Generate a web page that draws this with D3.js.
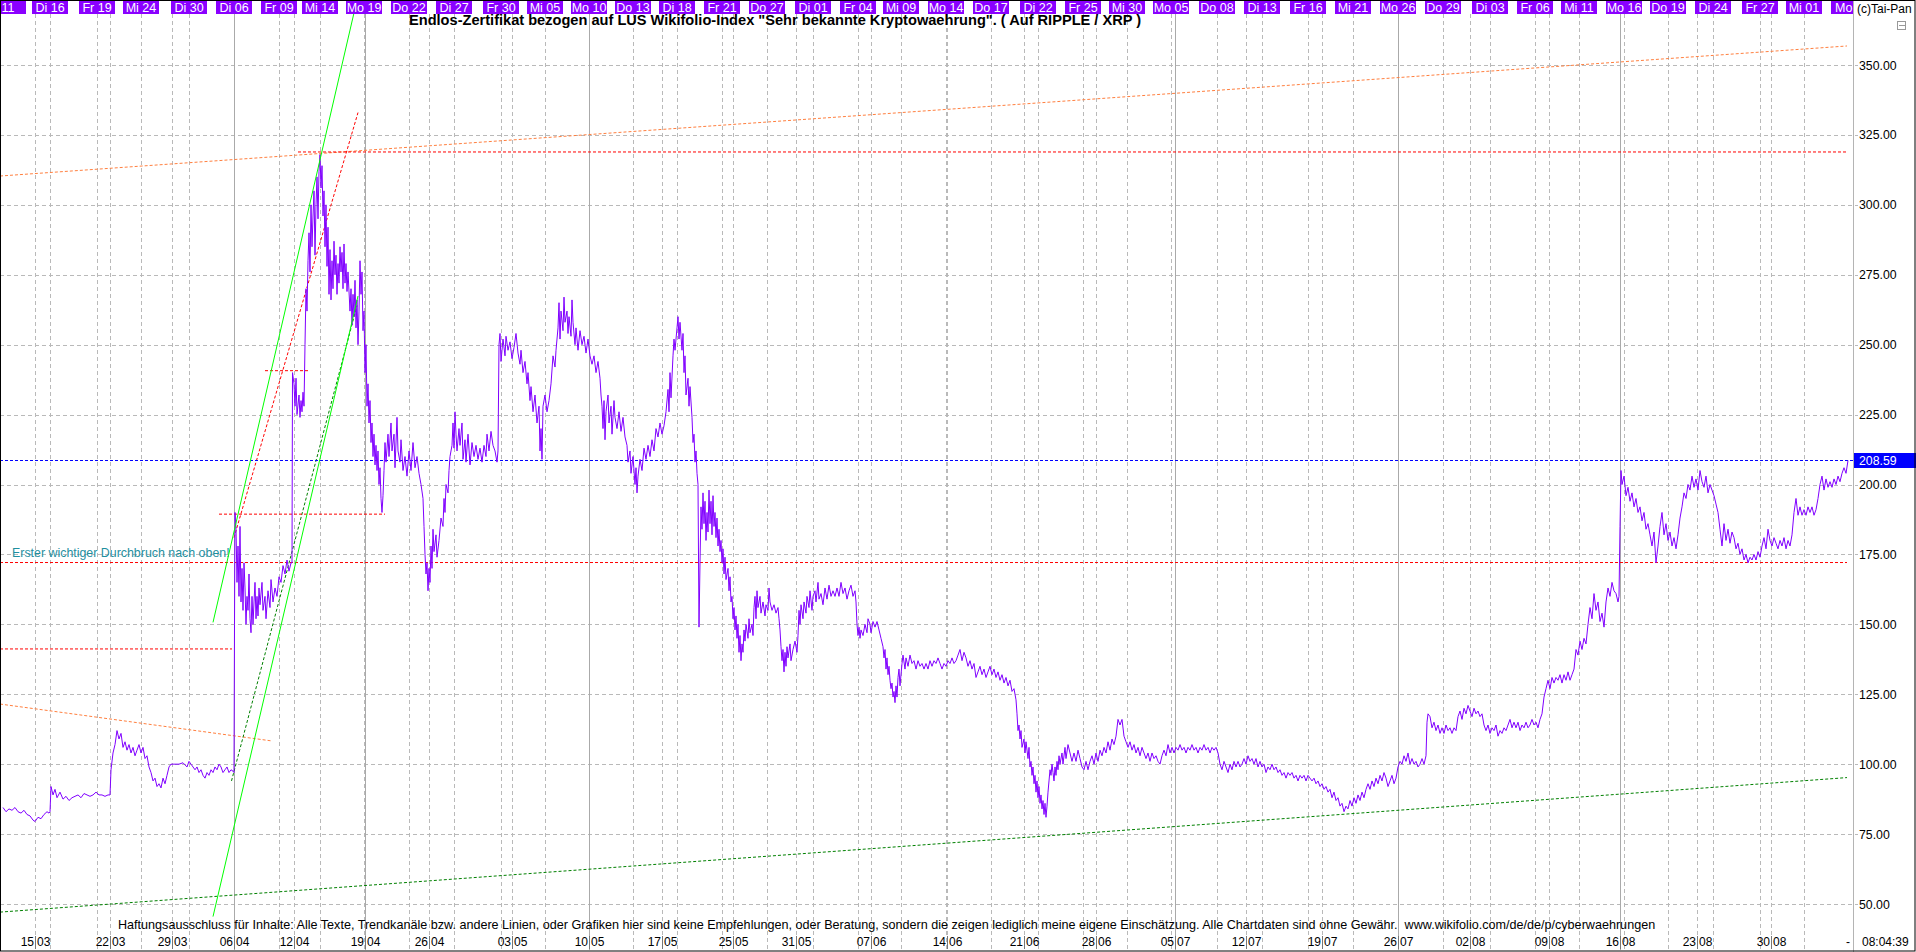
<!DOCTYPE html>
<html><head><meta charset="utf-8">
<script src="https://cdn.jsdelivr.net/npm/d3@7"></script>
<style>
html,body{margin:0;padding:0;background:#fff;overflow:hidden}
svg{display:block}
text{font-family:"Liberation Sans",Arial,sans-serif}
</style></head><body>
<svg id="c" width="1916" height="952"></svg>
<script>
// ---------------- DATA ----------------
const titleText = 'Endlos-Zertifikat bezogen auf LUS Wikifolio-Index "Sehr bekannte Kryptowaehrung". ( Auf RIPPLE / XRP )';
const disclaimerText = "Haftungsausschluss für Inhalte: Alle Texte, Trendkanäle bzw. andere Linien, oder Grafiken hier sind keine Empfehlungen, oder Beratung, sondern die zeigen lediglich meine eigene Einschätzung. Alle Chartdaten sind ohne Gewähr.  www.wikifolio.com/de/de/p/cyberwaehrungen";
const noteText = "Erster wichtiger Durchbruch nach oben!";
const copyrightText = "(c)Tai-Pan";
const timeText = "08:04:39";
const lastPrice = 208.59;
const priceTicks = [50, 75, 100, 125, 150, 175, 200, 225, 250, 275, 300, 325, 350];

// session index of each date label: [t, day, month]
const dateTicks = [[35,"15","03"],[110,"22","03"],[172,"29","03"],[234,"06","04"],[294,"12","04"],[365,"19","04"],
  [429,"26","04"],[512,"03","05"],[589,"10","05"],[662,"17","05"],[733,"25","05"],[796,"31","05"],[871,"07","06"],
  [947,"14","06"],[1024,"21","06"],[1096,"28","06"],[1175,"05","07"],[1246,"12","07"],[1322,"19","07"],[1398,"26","07"],
  [1470,"02","08"],[1549,"09","08"],[1620,"16","08"],[1697,"23","08"],[1771,"30","08"]];
const majorDates = ["06.04","19.04","10.05","05.07","26.07","16.08"];
const topLabels = [[8,"11"],[50,"Di 16"],[97,"Fr 19"],[141,"Mi 24"],[189,"Di 30"],[234,"Di 06"],[279,"Fr 09"],[320,"Mi 14"],
  [364,"Mo 19"],[409,"Do 22"],[454,"Di 27"],[501,"Fr 30"],[545,"Mi 05"],[589,"Mo 10"],[633,"Do 13"],[677,"Di 18"],
  [722,"Fr 21"],[767,"Do 27"],[813,"Di 01"],[858,"Fr 04"],[901,"Mi 09"],[946,"Mo 14"],[991,"Do 17"],[1038,"Di 22"],
  [1083,"Fr 25"],[1127,"Mi 30"],[1171,"Mo 05"],[1217,"Do 08"],[1262,"Di 13"],[1308,"Fr 16"],[1353,"Mi 21"],[1398,"Mo 26"],
  [1443,"Do 29"],[1490,"Di 03"],[1535,"Fr 06"],[1579,"Mi 11"],[1624,"Mo 16"],[1668,"Do 19"],[1713,"Di 24"],[1760,"Fr 27"],
  [1804,"Mi 01"],[1849,"Mo"]];
const sessionRange = [0, 1853];

// price path [session index, price]
const priceMar = [[3,84.5],[6,83],[9,84],[12,83.5],[15,84.5],[18,83],[21,82.5],[24,83.5],[27,82],[30,81.5],[33,80],[35,79.5],[38,81],[41,80.5],[44,82],[47,83],[49,82.5],
 [50,83],[51,92],[53,89],[55,91],[57,88],[60,90],[63,87.5],[66,88.5],[69,87],[72,88],[75,88.5],[78,89],[81,88],[84,89.5],[87,89],[90,88.5],[93,89],[96,90],[99,89],[102,89],[105,88.5],[108,89],[110,89],
 [111,98],[113,104],[115,107],[117,112],[119,109],[121,111],[123,106],[125,108],[127,105],[129,107],[131,104],[133,106],[135,103],[137,105],[139,107],[141,104],[143,106],[145,102],[147,103],[149,99],[151,97],[153,94],[155,95],[157,92],[159,93],[161,91.5],[163,95],[165,93],[167,96],[169,99],[171,100],[175,100],[179,100],[183,100.5],[187,99],[189,101],[191,100],[193,99],[195,98],[197,99],[199,97],[201,98],[203,96],[205,95],[207,97],[209,96],[211,98],[213,97],[215,99],[217,98],[219,100],[221,99],[223,97],[225,98],[227,99],[229,97],[231,98],[233,97.5]];
const priceApr = [[234,97],[234.5,150],[235,190],[236,184],[237,165],[238,178],[239,160],[240,185],[241,158],[242,170],[243,155],[244,172],[245,163],[246,150],[247,160],[248,155],[249,168],[250,152],[251,147],[252,160],[253,150],[254,158],[255,165],[256,152],[257,160],[258,153],[259,163],[260,157],[262,165],[263,155],[265,160],[266,152],[268,162],[270,156],[271,166],[273,158],[275,163],[277,160],[279,167],[281,165],[283,171],[285,168],[287,173],[289,169],[291,172],
 [292,172],[292.5,240],[294,236],[295,228],[296,238],[297,225],[299,232],[300,224],[301,230],[302,226],[303,233],[304,228],[305,250],[306,270],[307,262],[308,280],[309,290],[310,276],[311,300],[312,285],[313,296],[314,305],[315,282],[316,300],[317,310],[318,295],[319,312],[320,318],[321,306],[322,314],[323,296],[324,305],[325,285],[326,300],[327,278],[328,292],[329,268],[330,284],[331,266],[332,280],[333,270],[334,287],[335,275],[336,282],[337,268],[338,279],[339,272],[340,285],[341,276],[342,283],[343,270],[344,286],[345,272],[346,279],[347,269],[348,276],[350,262],[351,270],[352,257],[353,268],[354,260],[355,273],[356,256],[357,266],[358,250],[359,262],[360,280],[361,268],[362,276],[363,255],[364,262],[365,240],[366,250],[367,228],[368,236],[369,222],[370,230],[371,215],[372,222],[373,210],[374,218],[375,207],[376,214],[377,205],[378,212],[379,200],[380,206],[381,195],[382,190],[383,196],
 [384,205],[385,215],[386,208],[388,218],[389,210],[391,222],[392,212],[394,218],[395,206],[397,224],[398,212],[400,208],[401,216],[403,205],[405,210],[407,203],[409,212],[411,205],[413,215],[415,206],[417,210],[419,204],[421,200],[423,195],[424,185],[425,175],[426,168],[427,172],[428,162],[429,170],[430,165],[431,178],[432,170],[433,184],[434,176],[436,182],[437,174],[439,180],[441,188],[443,185],[444,195],[445,190],[446,200],[448,197],[449,205],[450,210],[452,214],[453,222],[454,213],[455,226],[456,218],[457,212],[459,220],[460,214],[462,222],[463,209],[465,216],[466,208],[468,218],[470,207],[472,215],[474,210],[476,214],[478,209],[480,213],[482,208],[484,214],[486,210],[487,218],[489,212],[491,219],[493,214],[495,212],[497,208],[498,212]];
const priceMay = [[499,250],[500,254],[501,244],[502,248],[503,252],[505,246],[506,253],[508,248],[510,251],[512,245],[514,249],[516,254],[518,247],[520,243],[521,248],[523,240],[525,244],[527,236],[528,240],[530,230],[531,235],[533,226],[535,232],[537,222],[539,228],[540,212],[541,220],[542,209],[543,228],[545,232],[547,226],[549,230],[551,236],[553,246],[555,242],[556,248],[558,256],[559,265],[560,252],[561,262],[563,255],[564,267],[565,258],[567,262],[568,254],[569,260],[571,253],[572,266],[573,258],[575,250],[576,256],[578,248],[580,255],[582,250],[584,253],[586,247],[588,252],[590,246],[592,243],[594,246],[596,240],[598,244],[600,238],[601,232],[602,228],[603,220],[604,230],[605,216],[606,226],[608,232],[609,222],[611,228],[612,218],[614,230],[615,224],[617,220],[619,226],[621,219],[623,224],[625,217],[627,214],[628,208],[630,212],[631,204],[633,210],[635,200],[636,206],[637,197],[638,203],[640,209],[642,205],[644,213],[646,209],[648,214],[650,210],[652,216],[654,212],[656,220],[658,217],[660,222],[662,218],[664,221],[666,226],[668,234],[669,226],[670,240],[671,231],[673,246],[674,252],[675,248],[677,256],[678,260],[679,252],[680,258],[682,248],[683,254],[684,240],[685,246],[686,232],[688,238],[689,228],[690,235],[692,224],[693,215],[694,218],[695,208],[696,212],[697,204],[698,200],[699,149],[700,172]];
const priceJun = [[701,192],[702,184],[703,197],[704,186],[705,194],[706,180],[707,190],[708,183],[709,198],[710,186],[711,194],[712,182],[713,196],[714,185],[715,190],[716,181],[717,188],[718,178],[719,184],[720,176],[721,180],[722,172],[723,177],[724,168],[725,174],[726,166],[728,170],[729,162],[730,167],[731,158],[732,160],[733,152],[734,156],[735,148],[736,153],[737,145],[738,150],[739,140],[740,146],[741,137],[742,143],[743,140],[744,148],[745,144],[746,150],[748,145],[749,152],[750,147],[752,150],[753,146],[754,156],[755,160],[756,152],[757,162],[758,156],[760,160],[761,154],[763,158],[765,153],[766,157],[768,155],[769,163],[770,158],[772,155],[774,157],[776,154],[778,156],[779,152],[780,148],[781,142],[782,137],[783,141],[784,133],[785,140],[786,135],[787,142],[788,138],[790,143],[791,137],[793,141],[795,144],[797,140],[798,146],[799,155],[800,150],[801,157],[803,152],[804,158],[806,154],[807,160],[809,156],[810,162],[812,155],[813,160],[815,162],[816,158],[818,165],[819,159],[821,161],[823,157],[825,163],[827,159],[829,164],[831,160],[833,162],[835,160],[837,163],[839,160],[841,165],[843,161],[845,163],[847,159],[849,162],[851,164],[853,160],[855,162],[856,158],[857,150],[858,146],[859,149],[860,145],[861,148],[863,146],[865,150],[867,147],[868,152],[870,150],[871,147],[873,151],[875,149],[877,151],[879,148],[881,145],[883,142],[884,138],[885,141],[886,134],[887,138],[888,132],[889,135],[890,130],[891,127],[892,129],[893,124],[894,126],[895,122],[896,128],[897,124],[898,131],[899,134],[900,128],[902,136],[903,139],[905,134],[906,138],[908,135],[910,139],[912,136],[914,137],[916,134],[918,137],[920,135],[922,136],[924,134],[926,136],[928,134],[930,137],[932,135],[934,137],[936,136],[938,138],[940,136],[942,134],[944,136],[946,135],[948,137],[950,136],[952,138],[954,136],[956,137],[958,139],
 [960,141],[962,137],[964,140],[966,138],[968,135],[970,137],[972,134],[974,136],[976,131],[978,133],[980,135],[982,132],[984,134],[986,131],[988,133],[990,135],[992,132],[994,134],[996,131],[998,133],[1000,130],[1002,132],[1004,129],[1006,131],[1008,128],[1010,130],[1012,126],[1014,127],[1016,123],[1017,118],[1018,112],[1019,114],[1020,109],[1021,112],[1022,106],[1024,109],[1025,104],[1026,108],[1028,102],[1029,106],[1030,99],[1031,101],[1032,96],[1033,99],[1034,93],[1035,96],[1036,90],[1037,94],[1038,88],[1039,92],[1040,86],[1041,89],[1042,84],[1043,87],[1044,82],[1045,86],[1046,81],[1047,85]];
const priceJul = [[1048,90],[1049,94],[1050,98],[1051,96],[1052,100],[1053,97],[1054,94],[1055,99],[1056,96],[1057,101],[1058,98],[1059,103],[1060,100],[1062,104],[1063,100],[1065,106],[1066,102],[1068,107],[1070,104],[1072,101],[1074,104],[1076,101],[1078,105],[1080,102],[1082,99],[1084,98],[1086,101],[1088,98],[1090,101],[1092,103],[1094,100],[1096,104],[1098,101],[1100,105],[1102,103],[1104,106],[1106,104],[1108,108],[1110,105],[1112,109],[1114,107],[1116,110],[1118,116],[1120,114],[1122,116],[1124,110],[1126,108],[1128,106],[1130,108],[1132,105],[1134,107],[1136,104],[1138,106],[1140,103],[1142,106],[1144,104],[1146,102],[1148,104],[1150,101],[1152,104],[1154,102],[1156,103],[1158,101],[1160,100],[1162,103],[1164,105],[1166,103],[1168,107],[1170,104],[1172,106],[1174,104],[1176,106],[1178,105],[1180,107],[1182,105],[1184,106],[1186,104],[1188,106],[1190,105],[1192,107],[1194,105],[1196,106],[1198,104],[1200,106],[1202,105],[1204,107],[1206,105],[1208,106],[1210,104],[1212,106],[1214,105],[1216,106],[1218,104],[1220,100],[1222,98],[1224,101],[1226,99],[1228,97],[1230,100],[1232,98],[1234,101],[1236,99],[1238,101],[1240,99],[1242,100],[1244,102],[1246,100],[1248,103],[1250,101],[1252,102],[1254,100],[1256,102],[1258,99],[1260,101],[1262,99],[1264,100],[1266,97],[1268,99],[1270,98],[1272,100],[1274,98],[1276,99],[1278,97],[1280,98],[1282,96],[1284,97],[1286,95],[1288,97],[1290,96],[1292,97],[1294,95],[1296,96],[1298,94],[1300,96],[1302,95],[1304,96],[1306,94],[1308,96],[1310,95],[1312,94],[1314,95],[1316,93],[1318,94],[1320,92],[1322,93],[1324,91],[1326,92],[1328,90],[1330,91],[1332,88],[1334,90],[1336,87],[1338,88],[1340,85],[1342,86],[1344,83],[1346,85],[1348,84],[1350,87],[1352,85],[1354,88],[1356,86],[1358,89],[1360,87],[1362,90],[1364,88],[1366,91],[1368,93],[1370,91],[1372,94],[1374,92],[1376,95],[1378,93],[1380,96],[1382,94],[1384,97],[1386,95],[1388,92],[1390,94],[1392,96],[1394,93],[1396,95],[1398,99],[1400,101],[1402,100],[1404,103],[1406,101],[1408,104],[1410,100],[1412,102],[1414,100],[1416,101],[1418,99],[1420,100],[1422,102],[1424,100],[1426,103]];
const priceAug = [[1427,115],[1428,118],[1430,117],[1432,113],[1434,115],[1436,112],[1438,114],[1440,111],[1442,113],[1444,111],[1446,114],[1448,112],[1450,113],[1452,111],[1454,113],[1456,112],[1458,117],[1460,119],[1462,116],[1464,120],[1466,118],[1468,121],[1470,119],[1472,117],[1474,120],[1476,118],[1478,119],[1480,117],[1482,118],[1484,114],[1486,112],[1488,114],[1490,111],[1492,113],[1494,112],[1496,114],[1498,110],[1500,112],[1502,111],[1504,113],[1506,112],[1508,114],[1510,116],[1512,113],[1514,115],[1516,113],[1518,115],[1520,112],[1522,114],[1524,113],[1526,115],[1528,113],[1530,114],[1532,116],[1534,114],[1536,115],[1538,113],[1540,116],[1542,118],[1544,124],[1546,127],[1548,130],[1550,127],[1552,131],[1554,129],[1556,131],[1558,130],[1560,132],[1562,129],[1564,132],[1566,130],[1568,133],[1570,130],[1572,132],[1574,134],[1576,141],[1578,139],[1580,144],[1582,141],[1584,145],[1586,143],[1588,150],[1590,156],[1592,152],[1594,161],[1596,155],[1598,158],[1600,151],[1602,154],[1604,149],[1606,158],[1608,163],[1610,160],[1612,165],[1614,162],[1616,161],[1618,158],[1619,160],
 [1620,185],[1621,205],[1622,200],[1624,203],[1626,196],[1628,199],[1630,194],[1632,197],[1634,192],[1636,195],[1638,190],[1640,192],[1642,187],[1644,190],[1646,184],[1648,186],[1650,182],[1652,178],[1654,183],[1656,172],[1658,178],[1660,185],[1662,190],[1664,182],[1666,186],[1668,180],[1670,183],[1672,178],[1674,181],[1676,177],[1678,182],[1680,188],[1682,192],[1684,197],[1686,195],[1688,200],[1690,198],[1692,203],[1694,199],[1696,202],[1698,198],[1700,205],[1702,201],[1704,199],[1706,203],[1708,197],[1710,200],[1712,198],[1714,196],[1716,193],[1718,190],[1720,184],[1722,178],[1724,186],[1726,180],[1728,184],[1730,179],[1732,183],[1734,181],[1736,177],[1738,179],[1740,175],[1742,177],[1744,173],[1746,175],[1748,172],[1750,174],[1752,173],[1754,175],[1756,173],[1758,176],[1760,174],[1762,178],[1764,181],[1766,177],[1768,184],[1770,180],[1772,178],[1774,181],[1776,179],[1778,177],[1780,180],[1782,178],[1784,181],[1786,177],[1788,180],[1790,178],[1792,182],[1794,190],[1796,195],[1798,189],[1800,192],[1802,189],[1804,191],[1806,189],[1808,192],[1810,190],[1812,192],[1814,189],[1816,191],[1818,195],[1820,200],[1822,203],[1824,198],[1826,202],[1828,199],[1830,201],[1832,199],[1834,202],[1836,200],[1838,203],[1840,201],[1842,204],[1844,206],[1846,204],[1848,208.59]];

// drawn analysis lines: [t1, price1, t2, price2]
const redLevels = [[298,318.9,1847,318.9],[0,172.1,1847,172.1],[265,240.7,309,240.7],[219,189.4,385,189.4],[0,141.2,232,141.2],[234,181,358,333]];
const orangeTrends = [[0,310.3,1847,356.8],[0,121.5,272,108.3]];
const darkGreenTrends = [[0,47.1,1847,95.2],[231.5,94,357,264]];
const greenChannel = [[213,150.7,357,373.3],[213,45.5,358,267.4]];
const notePos = [12, 175.5]; // session index, price

// ---------------- DRAW ----------------
const W = 1916, H = 952;
const axisX = 1853, plotTop = 14, axisRowTop = 933;
const svg = d3.select("#c");
const x = d3.scaleLinear().domain(sessionRange).range([0, axisX]);
const y = d3.scaleLinear().domain([50, 350]).range([904, 65]);
const price = [].concat(priceMar, priceApr, priceMay, priceJun, priceJul, priceAug);

svg.append("rect").attr("width", W).attr("height", H).attr("fill", "#fff");

const grid = svg.append("g");
grid.selectAll("line.h").data(priceTicks).join("line")
  .attr("x1", 0).attr("x2", axisX + 5).attr("y1", d => Math.round(y(d)) + 0.5).attr("y2", d => Math.round(y(d)) + 0.5)
  .attr("stroke", "#b9b9b9").attr("stroke-dasharray", "4,3");
grid.selectAll("line.t").data(topLabels.slice(1, -1)).join("line")
  .attr("x1", d => Math.round(x(d[0])) + 0.5).attr("x2", d => Math.round(x(d[0])) + 0.5)
  .attr("y1", plotTop).attr("y2", H - 2)
  .attr("stroke", "#b9b9b9").attr("stroke-dasharray", "4,3");
const isMajor = d => majorDates.includes(d[1] + "." + d[2]);
grid.selectAll("line.d").data(dateTicks).join("line")
  .attr("x1", d => Math.round(x(d[0])) + 0.5).attr("x2", d => Math.round(x(d[0])) + 0.5)
  .attr("y1", plotTop).attr("y2", H - 2)
  .attr("stroke", d => isMajor(d) ? "#aaaaaa" : "#b9b9b9")
  .attr("stroke-dasharray", d => isMajor(d) ? null : "4,3");

const defs = svg.append("defs");
defs.append("clipPath").attr("id", "pc").append("rect").attr("x", 0).attr("y", 0).attr("width", axisX).attr("height", axisRowTop);
defs.append("clipPath").attr("id", "tc").append("rect").attr("x", 1).attr("y", 0).attr("width", axisX - 1).attr("height", 16);
const g = svg.append("g").attr("clip-path", "url(#pc)");

function segLines(data, color, dash) {
  g.append("g").selectAll("line").data(data).join("line")
    .attr("x1", d => x(d[0])).attr("y1", d => y(d[1]))
    .attr("x2", d => x(d[2])).attr("y2", d => y(d[3]))
    .attr("stroke", color).attr("stroke-width", 1)
    .attr("stroke-dasharray", dash);
}
segLines(orangeTrends, "#ff7f3f", "3,2");
segLines(darkGreenTrends, "#008000", "3,2");
segLines(redLevels, "#ff0000", "3,2");

g.append("line").attr("x1", 0).attr("x2", axisX).attr("y1", Math.round(y(lastPrice)) + 0.5).attr("y2", Math.round(y(lastPrice)) + 0.5)
  .attr("stroke", "#0000ff").attr("stroke-dasharray", "3,2");

g.append("path").datum(price)
  .attr("d", d3.line().x(d => x(d[0])).y(d => y(d[1])))
  .attr("fill", "none").attr("stroke", "#8000ff").attr("stroke-width", 1);

g.append("text").attr("x", x(notePos[0])).attr("y", y(notePos[1]) + 4)
  .attr("font-size", 12.4).attr("fill", "#1f8f9f").text(noteText);

svg.append("text").attr("x", 409).attr("y", 25).attr("font-size", 14.6).attr("font-weight", "bold")
  .attr("fill", "#000").text(titleText);

// top label bar
const lastIdx = topLabels.length - 1;
const tl = svg.append("g").attr("clip-path", "url(#tc)");
tl.selectAll("rect").data(topLabels).join("rect")
  .attr("x", d => x(d[0]) - 18).attr("y", 1).attr("width", 36).attr("height", 13)
  .attr("fill", "#8a00ff");
tl.selectAll("text").data(topLabels).join("text")
  .attr("x", (d, i) => i === lastIdx ? x(d[0]) - 14 : x(d[0])).attr("y", 12)
  .attr("text-anchor", (d, i) => i === lastIdx ? "start" : "middle")
  .attr("font-size", 12.5).attr("fill", "#fff").text(d => d[1]);

g.append("g").selectAll("line").data(greenChannel).join("line")
  .attr("x1", d => x(d[0])).attr("y1", d => y(d[1]))
  .attr("x2", d => x(d[2])).attr("y2", d => y(d[3]))
  .attr("stroke", "#00ff00").attr("stroke-width", 1);

svg.append("text").attr("x", 118).attr("y", 929).attr("font-size", 12.6).attr("fill", "#000")
  .style("white-space", "pre").text(disclaimerText);

const bl = svg.append("g");
bl.selectAll("text.day").data(dateTicks).join("text")
  .attr("x", d => Math.round(x(d[0])) - 1).attr("y", 946).attr("text-anchor", "end")
  .attr("font-size", 12).attr("fill", "#000").text(d => d[1]);
bl.selectAll("text.mon").data(dateTicks).join("text")
  .attr("x", d => Math.round(x(d[0])) + 2).attr("y", 946).attr("text-anchor", "start")
  .attr("font-size", 12).attr("fill", "#000").text(d => d[2]);
bl.selectAll("line").data(dateTicks).join("line")
  .attr("x1", d => Math.round(x(d[0])) + 0.5).attr("x2", d => Math.round(x(d[0])) + 0.5)
  .attr("y1", 936).attr("y2", 949).attr("stroke", "#777");
svg.append("text").attr("x", axisX - 5).attr("y", 946).attr("text-anchor", "middle").attr("font-size", 12).text("-");

svg.append("line").attr("x1", axisX + 0.5).attr("x2", axisX + 0.5).attr("y1", 0).attr("y2", H).attr("stroke", "#b4b4b4");
const ya = svg.append("g");
ya.selectAll("text").data(priceTicks).join("text")
  .attr("x", 1859).attr("y", d => y(d) + 4.5).attr("font-size", 12.3).attr("fill", "#000")
  .text(d => d3.format(".2f")(d));
svg.append("rect").attr("x", axisX + 1).attr("y", Math.round(y(lastPrice)) - 7).attr("width", W - axisX - 1).attr("height", 15).attr("fill", "#0000ff");
svg.append("text").attr("x", 1859).attr("y", y(lastPrice) + 4.5).attr("font-size", 12.3).attr("fill", "#fff").text(d3.format(".2f")(lastPrice));

svg.append("text").attr("x", 1857).attr("y", 13).attr("font-size", 12).attr("fill", "#000").text(copyrightText);
svg.append("rect").attr("x", 1897.5).attr("y", 21.5).attr("width", 8).attr("height", 8).attr("fill", "none").attr("stroke", "#999");
svg.append("line").attr("x1", 1899).attr("x2", 1905).attr("y1", 25.5).attr("y2", 25.5).attr("stroke", "#999");
svg.append("text").attr("x", 1862).attr("y", 946).attr("font-size", 12).attr("fill", "#000").text(timeText);

svg.append("rect").attr("x", 0.5).attr("y", 0.5).attr("width", W - 1.5).attr("height", H - 1.5)
  .attr("fill", "none").attr("stroke", "#000");
</script></body></html>
